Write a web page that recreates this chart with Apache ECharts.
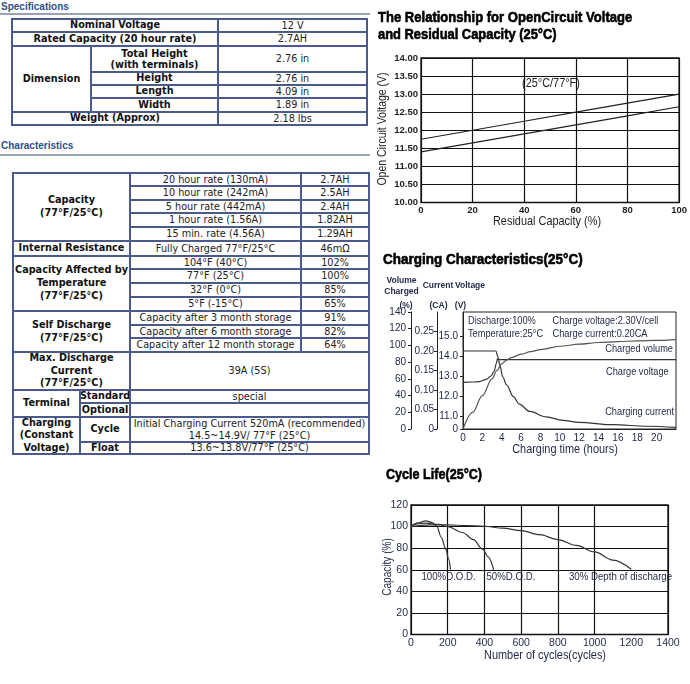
<!DOCTYPE html>
<html><head><meta charset="utf-8">
<script src="https://cdn.jsdelivr.net/npm/echarts@6/dist/echarts.min.js"></script>
<style>
html,body{margin:0;padding:0;width:690px;height:684px;background:#fff;overflow:hidden;}
#chart{position:absolute;left:0;top:0;width:690px;height:684px;}
.hd{position:absolute;left:1px;font:bold 10px 'Liberation Sans',Arial,sans-serif;color:#2f4f8c;line-height:12px;}
.rule{position:absolute;left:0;width:370px;height:2px;background:#98a4b6;}
.tbl{position:absolute;display:grid;background:#4a5a8a;padding:2px;gap:2px;box-sizing:border-box;font-family:'DejaVu Sans',Verdana,sans-serif;font-size:9.7px;color:#222;}
.tbl div{background:#fff;display:flex;align-items:center;justify-content:center;text-align:center;line-height:11.7px;overflow:hidden;white-space:nowrap;}
.tbl .b{font-weight:bold;line-height:12.7px;color:#111;}
</style></head>
<body>
<div class="hd" style="top:1px">Specifications</div>
<div class="rule" style="top:13px"></div>
<div class="tbl" style="left:11px;top:18px;width:357px;height:108px;grid-template-columns:77px 125px 147px;grid-template-rows:11px 12px 24px 11px 11px 12px 11px;">
  <div class="b" style="grid-column:1/3;grid-row:1">Nominal Voltage</div><div style="grid-column:3;grid-row:1">12 V</div>
  <div class="b" style="grid-column:1/3;grid-row:2">Rated Capacity (20 hour rate)</div><div style="grid-column:3;grid-row:2">2.7AH</div>
  <div class="b" style="grid-column:1;grid-row:3/7">Dimension</div>
  <div class="b" style="grid-column:2;grid-row:3;line-height:11.5px">Total Height<br>(with terminals)</div><div style="grid-column:3;grid-row:3">2.76 in</div>
  <div class="b" style="grid-column:2;grid-row:4">Height</div><div style="grid-column:3;grid-row:4">2.76 in</div>
  <div class="b" style="grid-column:2;grid-row:5">Length</div><div style="grid-column:3;grid-row:5">4.09 in</div>
  <div class="b" style="grid-column:2;grid-row:6">Width</div><div style="grid-column:3;grid-row:6">1.89 in</div>
  <div class="b" style="grid-column:1/3;grid-row:7">Weight (Approx)</div><div style="grid-column:3;grid-row:7">2.18 lbs</div>
</div>
<div class="hd" style="top:140px">Characteristics</div>
<div class="rule" style="top:154px"></div>
<div class="tbl" style="left:12px;top:172px;width:358px;height:283px;grid-template-columns:65px 48px 169px 66px;grid-template-rows:11px 12px 11px 12px 12px 13px 11px 12px 12px 12px 12px 11px 12px 36px 11px 12px 23px 10px;">
  <div class="b" style="grid-column:1/3;grid-row:1/6">Capacity<br>(77°F/25°C)</div>
  <div style="grid-column:3;grid-row:1">20 hour rate (130mA)</div><div style="grid-column:4;grid-row:1">2.7AH</div>
  <div style="grid-column:3;grid-row:2">10 hour rate (242mA)</div><div style="grid-column:4;grid-row:2">2.5AH</div>
  <div style="grid-column:3;grid-row:3">5 hour rate (442mA)</div><div style="grid-column:4;grid-row:3">2.4AH</div>
  <div style="grid-column:3;grid-row:4">1 hour rate (1.56A)</div><div style="grid-column:4;grid-row:4">1.82AH</div>
  <div style="grid-column:3;grid-row:5">15 min. rate (4.56A)</div><div style="grid-column:4;grid-row:5">1.29AH</div>
  <div class="b" style="grid-column:1/3;grid-row:6">Internal Resistance</div>
  <div style="grid-column:3;grid-row:6">Fully Charged 77°F/25°C</div><div style="grid-column:4;grid-row:6">46mΩ</div>
  <div class="b" style="grid-column:1/3;grid-row:7/11">Capacity Affected by<br>Temperature<br>(77°F/25°C)</div>
  <div style="grid-column:3;grid-row:7">104°F (40°C)</div><div style="grid-column:4;grid-row:7">102%</div>
  <div style="grid-column:3;grid-row:8">77°F (25°C)</div><div style="grid-column:4;grid-row:8">100%</div>
  <div style="grid-column:3;grid-row:9">32°F (0°C)</div><div style="grid-column:4;grid-row:9">85%</div>
  <div style="grid-column:3;grid-row:10">5°F (-15°C)</div><div style="grid-column:4;grid-row:10">65%</div>
  <div class="b" style="grid-column:1/3;grid-row:11/14">Self Discharge<br>(77°F/25°C)</div>
  <div style="grid-column:3;grid-row:11">Capacity after 3 month storage</div><div style="grid-column:4;grid-row:11">91%</div>
  <div style="grid-column:3;grid-row:12">Capacity after 6 month storage</div><div style="grid-column:4;grid-row:12">82%</div>
  <div style="grid-column:3;grid-row:13">Capacity after 12 month storage</div><div style="grid-column:4;grid-row:13">64%</div>
  <div class="b" style="grid-column:1/3;grid-row:14">Max. Discharge<br>Current<br>(77°F/25°C)</div>
  <div style="grid-column:3/5;grid-row:14">39A (5S)</div>
  <div class="b" style="grid-column:1;grid-row:15/17">Terminal</div>
  <div class="b" style="grid-column:2;grid-row:15">Standard</div><div style="grid-column:3/5;grid-row:15">special</div>
  <div class="b" style="grid-column:2;grid-row:16">Optional</div><div style="grid-column:3/5;grid-row:16"></div>
  <div class="b" style="grid-column:1;grid-row:17/19;line-height:12.3px">Charging<br>(Constant<br>Voltage)</div>
  <div class="b" style="grid-column:2;grid-row:17">Cycle</div>
  <div style="grid-column:3/5;grid-row:17">Initial Charging Current 520mA (recommended)<br>14.5~14.9V/ 77°F (25°C)</div>
  <div class="b" style="grid-column:2;grid-row:18">Float</div><div style="grid-column:3/5;grid-row:18">13.6~13.8V/77°F (25°C)</div>
</div>
<div id="chart"></div>
<script>
// ---- Open circuit voltage vs residual capacity ----
const ocvCapacity = [0, 20, 40, 60, 80, 100];
const ocvUpper = [11.75, 12.0, 12.25, 12.5, 12.75, 13.0];
const ocvLower = [11.4, 11.65, 11.9, 12.15, 12.4, 12.65];

// ---- Charging characteristics ----
const chgTimeV = [0, 1, 1.7, 2.4, 2.9, 3.2, 3.45, 3.55, 3.7, 8, 14, 22];
const chgVoltage = [12.68, 12.7, 12.72, 12.83, 13.0, 13.22, 13.63, 13.86, 13.82, 13.82, 13.82, 13.82];
const chgTimeI = [0, 3.4, 3.6, 3.8, 4.1, 4.5, 5.2, 5.8, 6.9, 8.6, 10.3, 12, 15.5, 19, 22];
const chgCurrent = [0.2, 0.2, 0.185, 0.164, 0.134, 0.113, 0.083, 0.064, 0.045, 0.031, 0.022, 0.017, 0.011, 0.007, 0.004];
const chgTimeQ = [0, 1, 2, 3, 3.5, 4, 4.5, 5, 6, 7, 8, 10, 12, 14, 16, 18, 20, 22];
const chgVolume = [0, 20, 40, 60, 70, 78, 82.5, 85.5, 89.5, 92.5, 95, 99, 101.5, 103.5, 104.5, 105.5, 106, 107];
const voltTicks = [10.35, 11, 12, 13, 14, 15];

// ---- Cycle life ----
const cyc100X = [0, 40, 80, 115, 140, 165, 190, 205, 215];
const cyc100Y = [100.5, 103.5, 105.3, 103.8, 100.5, 90, 79, 70, 60];
const cyc50X = [0, 30, 80, 150, 200, 280, 340, 390, 420, 450];
const cyc50Y = [100, 102.5, 103.2, 102, 100, 94.5, 88, 79, 72, 60];
const cyc30X = [0, 100, 200, 300, 400, 500, 600, 700, 800, 900, 1000, 1100, 1200];
const cyc30Y = [100, 101.5, 101.5, 101, 100.3, 98.5, 96.3, 92.5, 88, 82.5, 76.5, 69, 60.5];

const zip = (a, b) => a.map((v, i) => [v, b[i]]);
const SANS = "'Liberation Sans',Arial,sans-serif";
const INK = '#1f2747';
const SQ = 0.84; // horizontal squeeze to mimic the narrow face of the original

function txt(text, x, y, size, opts) {
  opts = opts || {};
  const st = { text: text, fontSize: size, fontFamily: SANS, fontWeight: opts.weight || 'normal',
    fill: opts.color || INK, align: opts.align || 'left', verticalAlign: 'middle' };
  if (opts.heavy) { st.stroke = '#000'; st.lineWidth = 0.6; }
  return { type: 'text', x: x, y: y, silent: true,
    scaleX: opts.sx || SQ, rotation: opts.rot || 0, style: st };
}
const lineS = (xi, yi, data, color, smooth) => ({ type: 'line', xAxisIndex: xi, yAxisIndex: yi, data: data,
  showSymbol: false, symbol: 'none', smooth: smooth, smoothMonotone: 'x', animation: false,
  lineStyle: { color: color, width: 1.2 } });
const lbl = (extra) => Object.assign({ fontSize: 10, color: INK, fontFamily: SANS }, extra);

const chart = echarts.init(document.getElementById('chart'));
chart.setOption({
  animation: false,
  grid: [
    { left: 421, top: 58, width: 261, height: 144.5, show: true, borderColor: '#111', borderWidth: 1.3 },
    { left: 463, top: 312, width: 213, height: 117, show: true, borderColor: '#222', borderWidth: 1 },
    { left: 411, top: 505, width: 257, height: 129.5, show: true, borderColor: '#111', borderWidth: 1.3 }
  ],
  xAxis: [
    { gridIndex: 0, type: 'value', min: 0, max: 100, interval: 20,
      axisLine: { lineStyle: { color: '#111' } }, axisTick: { show: false },
      splitLine: { show: true, lineStyle: { color: '#111', width: 1.2 } },
      axisLabel: lbl({ margin: 3, fontSize: 9.5, fontWeight: 'bold', color: '#222' }) },
    { gridIndex: 1, type: 'value', min: 0, max: 22, interval: 2,
      axisLine: { lineStyle: { color: '#222' } }, axisTick: { show: false }, splitLine: { show: false },
      axisLabel: lbl({ margin: 4, showMaxLabel: false }) },
    { gridIndex: 2, type: 'value', min: 0, max: 1400, interval: 200,
      axisLine: { lineStyle: { color: '#111' } }, axisTick: { show: false },
      splitLine: { show: true, lineStyle: { width: 1.2, color: ['#111', '#111', '#111', '#111', '#111', '#111', 'rgba(0,0,0,0)', '#111'] } },
      axisLabel: lbl({ margin: 3, fontSize: 10.5, formatter: v => String(v) }) }
  ],
  yAxis: [
    { gridIndex: 0, type: 'value', min: 10, max: 14, interval: 0.5,
      axisLine: { show: true, lineStyle: { color: '#111' } }, axisTick: { show: false },
      splitLine: { show: true, lineStyle: { color: '#111', width: 1.2 } },
      axisLabel: lbl({ margin: 3, fontSize: 9.5, fontWeight: 'bold', color: '#222', formatter: v => v.toFixed(2) }) },
    { gridIndex: 1, type: 'value', min: voltTicks[0], max: 16.2, position: 'left',
      axisLine: { show: true, lineStyle: { color: '#222' } },
      axisTick: { show: true, length: 3, customValues: voltTicks, lineStyle: { color: '#222' } },
      splitLine: { show: false },
      axisLabel: lbl({ margin: 5, customValues: voltTicks, formatter: v => (v < 10.5 ? '0' : v.toFixed(1)) }) },
    { gridIndex: 1, type: 'value', min: 0, max: 0.3, interval: 0.05, position: 'left', offset: 26,
      axisLine: { show: true, lineStyle: { color: '#222' } },
      axisTick: { show: true, length: 3, lineStyle: { color: '#222' } }, splitLine: { show: false },
      axisLabel: lbl({ margin: 3, showMaxLabel: false, formatter: v => (v === 0 ? '0' : v.toFixed(2)) }) },
    { gridIndex: 1, type: 'value', min: 0, max: 140, interval: 20, position: 'left', offset: 52,
      axisLine: { show: true, lineStyle: { color: '#222' } },
      axisTick: { show: true, length: 3, lineStyle: { color: '#222' } }, splitLine: { show: false },
      axisLabel: lbl({ margin: 5 }) },
    { gridIndex: 2, type: 'value', min: 0, max: 120, interval: 20,
      axisLine: { show: true, lineStyle: { color: '#111' } }, axisTick: { show: false },
      splitLine: { show: true, lineStyle: { color: '#111', width: 1.2 } },
      axisLabel: lbl({ margin: 3, fontSize: 10.5 }) }
  ],
  series: [
    lineS(0, 0, zip(ocvCapacity, ocvUpper), '#222', false),
    lineS(0, 0, zip(ocvCapacity, ocvLower), '#222', false),
    lineS(1, 1, zip(chgTimeV, chgVoltage), '#333', 0.35),
    lineS(1, 2, zip(chgTimeI, chgCurrent), '#333', 0.35),
    lineS(1, 3, zip(chgTimeQ, chgVolume), '#555', 0.35),
    lineS(2, 4, zip(cyc100X, cyc100Y), '#333', 0.35),
    lineS(2, 4, zip(cyc50X, cyc50Y), '#333', 0.35),
    lineS(2, 4, zip(cyc30X, cyc30Y), '#333', 0.35)
  ],
  graphic: [
    txt('The Relationship for OpenCircuit Voltage', 378, 18, 15, { weight: 'bold', color: '#000', sx: 0.87, heavy: true }),
    txt('and Residual Capacity (25°C)', 378, 35, 15, { weight: 'bold', color: '#000', sx: 0.86, heavy: true }),
    txt('(25°C/77°F)', 522, 83, 13, { color: '#222' }),
    txt('Open Circuit Voltage (V)', 383, 129, 12.5, { color: '#222', align: 'center', rot: Math.PI / 2 }),
    txt('Residual Capacity (%)', 547, 221, 13, { color: '#222', align: 'center' }),

    txt('Charging Characteristics(25°C)', 383, 260, 15, { weight: 'bold', color: '#000', sx: 0.9, heavy: true }),
    txt('Volume', 401.5, 281, 8.5, { weight: 'bold', align: 'center', sx: 1 }),
    txt('Charged', 401.5, 291.5, 8.5, { weight: 'bold', align: 'center', sx: 1 }),
    txt('(%)', 406, 305.5, 8.5, { weight: 'bold', align: 'center', sx: 1 }),
    txt('Current', 438, 286, 8.5, { weight: 'bold', align: 'center', sx: 1 }),
    txt('(CA)', 438.5, 305.5, 8.5, { weight: 'bold', align: 'center', sx: 1 }),
    txt('Voltage', 470, 285.5, 8.5, { weight: 'bold', align: 'center', sx: 1 }),
    txt('(V)', 460.5, 305.5, 8.5, { weight: 'bold', align: 'center', sx: 1 }),
    txt('Discharge:100%', 468, 321, 11),
    txt('Temperature:25°C', 468, 333.5, 11),
    txt('Charge voltage:2.30V/cell', 552.5, 321, 11),
    txt('Charge current:0.20CA', 552.5, 333.5, 11),
    txt('Charged volume', 673, 349, 11, { align: 'right' }),
    txt('Charge voltage', 606, 372, 11),
    txt('Charging current', 674, 411.5, 11, { align: 'right' }),
    txt('Charging time (hours)', 565, 449, 13, { align: 'center' }),

    txt('Cycle Life(25°C)', 386, 475, 15, { weight: 'bold', color: '#000', sx: 0.84, heavy: true }),
    txt('100%D.O.D.', 421.5, 577, 11.5),
    txt('50%D.O.D.', 486.5, 577, 11.5),
    txt('30% Depth of discharge', 569, 577, 11.5),
    txt('Capacity (%)', 387.5, 567, 12, { align: 'center', rot: Math.PI / 2 }),
    txt('Number of cycles(cycles)', 545, 655, 13, { align: 'center' })
  ]
});
</script>
</body></html>
